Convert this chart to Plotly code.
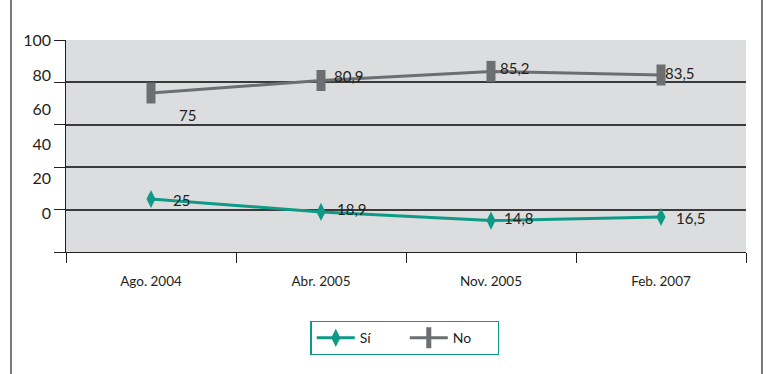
import plotly.graph_objects as go

categories = ["Ago. 2004", "Abr. 2005", "Nov. 2005", "Feb. 2007"]
si_values = [25, 18.9, 14.8, 16.5]
no_values = [75, 80.9, 85.2, 83.5]
y_tick_values = [0, 20, 40, 60, 80, 100]
y_tick_labels = ["0", "20", "40", "60", "80", "100"]

TEAL = "#0f9a88"
GRAY = "#6d6e71"
DARK = "#231f20"
FONT = "Lato, 'Open Sans', sans-serif"


def fmt(v):
    return f"{v:g}".replace(".", ",")


fig = go.Figure()
fig.add_trace(go.Scatter(
    x=categories, y=si_values, name="Sí", mode="lines+markers",
    line=dict(color=TEAL, width=3),
    marker=dict(symbol="diamond-tall", size=13, color=TEAL),
    hoverinfo="skip",
))
fig.add_trace(go.Scatter(
    x=categories, y=no_values, name="No", mode="lines+markers",
    line=dict(color=GRAY, width=3),
    marker=dict(symbol="line-ns", size=15, color=GRAY, line=dict(width=9, color=GRAY)),
    hoverinfo="skip",
))
# helper trace so the label axis is rendered
fig.add_trace(go.Scatter(x=[categories[0]], y=[None], yaxis="y2", showlegend=False,
                         hoverinfo="skip", mode="markers"))

no_shifts = [(36, -22), (28, 4), (24, 3), (19, 2)]
si_shifts = [(30, -1), (31, 3), (28, 3), (30, -1)]
annotations = []
for cat, v, (dx, dy) in zip(categories, no_values, no_shifts):
    annotations.append(dict(x=cat, y=v, text=fmt(v), showarrow=False, xshift=dx, yshift=dy,
                            font=dict(family=FONT, size=15, color=DARK)))
for cat, v, (dx, dy) in zip(categories, si_values, si_shifts):
    annotations.append(dict(x=cat, y=v, text=fmt(v), showarrow=False, xshift=dx, yshift=dy,
                            font=dict(family=FONT, size=15, color=DARK)))

fig.update_layout(
    width=767, height=374,
    margin=dict(l=66, r=21, t=40, b=122),
    paper_bgcolor="white", plot_bgcolor="#dcdddf",
    font=dict(family=FONT, color=DARK),
    xaxis=dict(type="category", range=[-0.5, 3.5], showgrid=False, showline=True,
               linecolor=DARK, linewidth=1, ticks="outside", tickson="boundaries",
               ticklen=10, tickcolor=DARK, tickfont=dict(size=13.5, color=DARK),
               ticklabelstandoff=17, zeroline=False),
    yaxis=dict(range=[0, 100], tickvals=y_tick_values, showticklabels=False,
               ticks="outside", ticklen=11, tickcolor=DARK, showgrid=False,
               showline=True, linecolor=DARK, linewidth=1, zeroline=False,
               minor=dict(tickvals=y_tick_values[1:-1], showgrid=True,
                          gridcolor="#3a3a3a", gridwidth=1.5, ticks="")),
    yaxis2=dict(overlaying="y", side="left", range=[-22.4, 100.4],
                tickvals=y_tick_values, ticktext=y_tick_labels, showgrid=False,
                showline=False, zeroline=False, ticks="", ticklabelstandoff=14,
                tickfont=dict(size=16, color=DARK)),
    legend=dict(orientation="h", x=0.4985, xanchor="center", y=-0.325, yanchor="top",
                bordercolor=TEAL, borderwidth=1.3, bgcolor="white",
                font=dict(size=14, color=DARK), entrywidth=40,
                itemwidth=38),
    annotations=annotations,
    shapes=[
        dict(type="line", xref="paper", yref="paper", x0=-0.0809, x1=-0.0809,
             y0=-0.6, y1=1.2, line=dict(color=DARK, width=1.2)),
        dict(type="line", xref="paper", yref="paper", x0=1.0235, x1=1.0235,
             y0=-0.6, y1=1.2, line=dict(color=DARK, width=1.2)),
    ],
    showlegend=True,
)

fig.write_html("out.html", config={"displayModeBar": False},
               post_script="document.body.style.margin='0';document.body.style.overflow='hidden';")
